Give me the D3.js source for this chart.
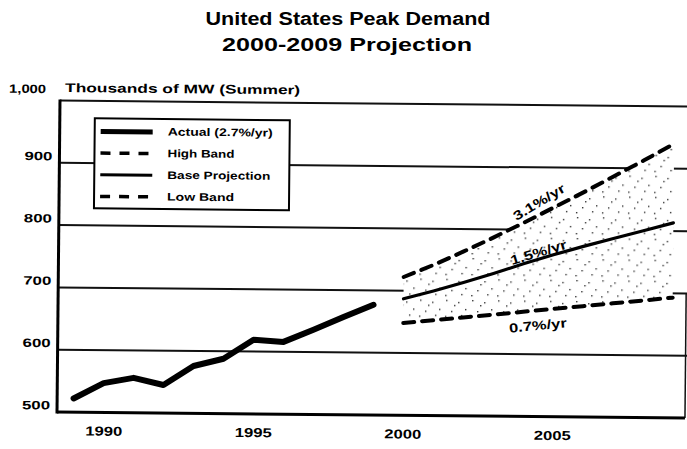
<!DOCTYPE html>
<html>
<head>
<meta charset="utf-8">
<script src="https://cdn.jsdelivr.net/npm/d3@7"></script>
<style>
  html, body { margin: 0; padding: 0; background: #fff; }
  svg { display: block; font-family: "Liberation Sans", Arial, sans-serif; }
</style>
</head>
<body>
<svg id="chart" width="687" height="449"></svg>
<script>
// --- Data
const actualYears = [1989, 1990, 1991, 1992, 1993, 1994, 1995, 1996, 1997, 1998, 1999];
const actualValues = [522, 547, 556, 545, 576, 588, 619, 616, 636, 657, 677];

const projYears = [2000, 2001, 2002, 2003, 2004, 2005, 2006, 2007, 2008, 2009];
const highBand = [722, 742, 764, 787, 811, 836, 861, 887, 913, 940];
const baseProj = [687, 700, 714, 729, 745, 760, 774, 787, 800, 813];
const lowBand  = [648, 653, 658, 663, 668, 673, 678, 683, 688, 693];

const yTicks = [500, 600, 700, 800, 900, 1000];
const xTicks = [1990, 1995, 2000, 2005];

const legendItems = ['Actual (2.7%/yr)', 'High Band', 'Base Projection', 'Low Band'];
const rateLabels = ['3.1%/yr', '1.5%/yr', '0.7%/yr'];

// --- Layout
const W = 687, H = 449;
const mLeft = 57, mRight = 685, mTop = 100.5, mBottom = 412;

const svg = d3.select('#chart');

const x = d3.scaleLinear().domain([1988.45, 2009.45]).range([mLeft, mRight]);
const y = d3.scaleLinear().domain([500, 1000]).range([mBottom, mTop]);

// sparse stipple for the projection band
const defs = svg.append('defs');
const pat = defs.append('pattern').attr('id', 'stip')
  .attr('patternUnits', 'userSpaceOnUse').attr('width', 26).attr('height', 21);
pat.append('rect').attr('width', 26).attr('height', 21).attr('fill', '#fff');
[[3, 2], [15, 4], [22, 11], [8, 13], [18, 17], [11, 7], [2, 18]].forEach(([cx, cy]) =>
  pat.append('rect').attr('x', cx).attr('y', cy).attr('width', 1.4).attr('height', 1.4).attr('fill', '#333'));

// titles
svg.append('text').attr('x', 348).attr('y', 25).attr('text-anchor', 'middle')
  .attr('font-size', 18).attr('font-weight', 'bold')
  .attr('textLength', 285).attr('lengthAdjust', 'spacingAndGlyphs')
  .text('United States Peak Demand');
svg.append('text').attr('x', 347).attr('y', 51).attr('text-anchor', 'middle')
  .attr('font-size', 18).attr('font-weight', 'bold')
  .attr('textLength', 250).attr('lengthAdjust', 'spacingAndGlyphs')
  .text('2000-2009 Projection');

// the scan is tilted a little clockwise
const g = svg.append('g').attr('transform', `rotate(0.55, ${mLeft}, ${mBottom})`);

g.append('text').attr('x', 62).attr('y', 92)
  .attr('font-size', 12.5).attr('font-weight', 'bold')
  .attr('textLength', 235).attr('lengthAdjust', 'spacingAndGlyphs')
  .text('Thousands of MW (Summer)');

// gridlines (top one is the frame)
g.append('g').selectAll('line').data(yTicks.filter(d => d > 500)).join('line')
  .attr('x1', mLeft).attr('x2', W)
  .attr('y1', d => y(d)).attr('y2', d => y(d))
  .attr('stroke', '#111').attr('stroke-width', 2);

// right edge of the frame (only visible in the lower part)
g.append('line').attr('x1', mRight).attr('x2', mRight)
  .attr('y1', y(700)).attr('y2', y(500))
  .attr('stroke', '#111').attr('stroke-width', 1.5);

// projection band
const bandData = projYears.map((yr, i) => ({ yr, hi: highBand[i], lo: lowBand[i] }));
g.append('path').datum(bandData)
  .attr('d', d3.area().x(d => x(d.yr)).y0(d => y(d.lo)).y1(d => y(d.hi)))
  .attr('fill', 'url(#stip)');

// lines
const line = d3.line().x(d => x(d[0])).y(d => y(d[1]));
g.append('path').datum(d3.zip(actualYears, actualValues)).attr('d', line)
  .attr('fill', 'none').attr('stroke', '#000').attr('stroke-width', 6)
  .attr('stroke-linecap', 'round').attr('stroke-linejoin', 'round');
g.append('path').datum(d3.zip(projYears, baseProj)).attr('d', line)
  .attr('fill', 'none').attr('stroke', '#000').attr('stroke-width', 3.2)
  .attr('stroke-linecap', 'round');
[highBand, lowBand].forEach(s => {
  g.append('path').datum(d3.zip(projYears, s)).attr('d', line)
    .attr('fill', 'none').attr('stroke', '#000').attr('stroke-width', 4)
    .attr('stroke-dasharray', '11 8').attr('stroke-linecap', 'round');
});

// rate labels, placed along each series between 2004 and 2005
const rateSeries = [highBand, baseProj, lowBand];
const rateOffset = [-13, -7, 15];
rateSeries.forEach((s, i) => {
  const x0 = x(projYears[4]), x1 = x(projYears[5]);
  const y0 = y(s[4]), y1 = y(s[5]);
  const ang = Math.atan2(y1 - y0, x1 - x0) * 180 / Math.PI;
  const cx = (x0 + x1) / 2, cy = (y0 + y1) / 2 + rateOffset[i];
  g.append('text').attr('transform', `translate(${cx},${cy}) rotate(${ang * (i === 0 ? 1.15 : 1)})`)
    .attr('text-anchor', 'middle').attr('dy', '0.35em')
    .attr('font-size', 13).attr('font-weight', 'bold')
    .attr('textLength', 58).attr('lengthAdjust', 'spacingAndGlyphs')
    .text(rateLabels[i]);
});

// legend
const lg = g.append('g');
lg.append('rect').attr('x', 92).attr('y', 118).attr('width', 195).attr('height', 90)
  .attr('fill', '#fff').attr('stroke', '#000').attr('stroke-width', 2);
const rowY = d3.scalePoint().domain(legendItems).range([131, 196]);
const sampleStyle = [
  { w: 5, dash: null },
  { w: 3.5, dash: '10 9' },
  { w: 3, dash: null },
  { w: 3.5, dash: '10 9' }
];
legendItems.forEach((t, i) => {
  lg.append('line').attr('x1', 98).attr('x2', 150)
    .attr('y1', rowY(t)).attr('y2', rowY(t))
    .attr('stroke', '#000').attr('stroke-width', sampleStyle[i].w)
    .attr('stroke-dasharray', sampleStyle[i].dash);
  lg.append('text').attr('x', 165).attr('y', rowY(t) + 3.5)
    .attr('font-size', 11).attr('font-weight', 'bold')
    .attr('textLength', [105, 67, 103, 67][i]).attr('lengthAdjust', 'spacingAndGlyphs')
    .text(t);
});

// axes
const yAxis = g.append('g').attr('transform', `translate(${mLeft},0)`)
  .call(d3.axisLeft(y).tickValues(yTicks).tickSize(0).tickPadding(7).tickFormat(d3.format(',')));
yAxis.select('.domain').remove();
yAxis.selectAll('text')
  .attr('font-family', '"Liberation Sans", Arial, sans-serif')
  .attr('font-size', 12).attr('font-weight', 'bold').attr('fill', '#000')
  .attr('dy', d => d === 1000 ? '-0.65em' : '-0.25em')
  .attr('dx', d => d === 1000 ? -7 : 0)
  .attr('textLength', d => d === 1000 ? 37 : 28).attr('lengthAdjust', 'spacingAndGlyphs');

const xAxis = g.append('g').attr('transform', `translate(0,${mBottom})`)
  .call(d3.axisBottom(x).tickValues(xTicks).tickSize(0).tickPadding(14).tickFormat(d3.format('d')));
xAxis.select('.domain').remove();
xAxis.selectAll('text')
  .attr('font-family', '"Liberation Sans", Arial, sans-serif')
  .attr('font-size', 13).attr('font-weight', 'bold').attr('fill', '#000')
  .attr('textLength', 37).attr('lengthAdjust', 'spacingAndGlyphs');

// frame: thick left and bottom axis lines
g.append('line').attr('x1', mLeft).attr('x2', mLeft).attr('y1', mTop - 1).attr('y2', mBottom + 1.5)
  .attr('stroke', '#000').attr('stroke-width', 3);
g.append('line').attr('x1', mLeft).attr('x2', mRight).attr('y1', mBottom).attr('y2', mBottom)
  .attr('stroke', '#000').attr('stroke-width', 3);
</script>
</body>
</html>
